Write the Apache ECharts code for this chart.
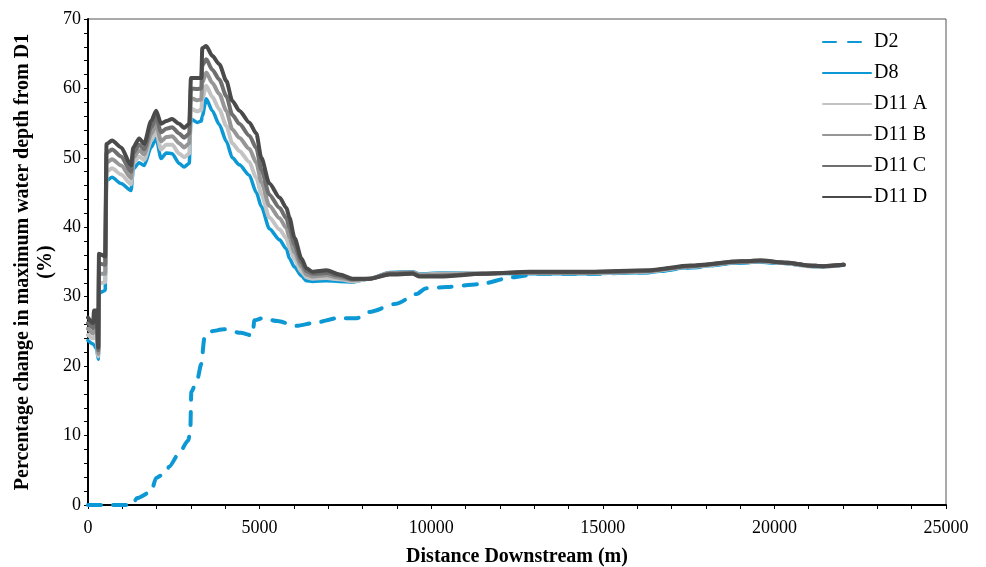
<!DOCTYPE html>
<html>
<head>
<meta charset="utf-8">
<script src="https://cdn.jsdelivr.net/npm/echarts@6/dist/echarts.min.js"></script>
<style>
  html, body { margin: 0; padding: 0; background: #fff; }
  #chart { width: 986px; height: 567px; }
</style>
</head>
<body>
<div id="chart"></div>
<script>
// distance downstream (m) shared by D8 and D11 runs
const dist = [0, 150, 175, 250, 300, 320, 500, 540, 700, 965, 1255, 1320, 1490, 1635, 1840, 1985,
  2130, 2280, 2450, 2660, 2800, 2950, 3000, 3180, 3300, 3330, 3445, 3620, 3825, 4030, 4205, 4410,
  4700, 4905, 5050, 5285, 5580, 5780, 5870, 6015, 6220, 6365, 6540, 6950, 7330, 7710, 8205, 8790,
  9460, 9665, 10250, 11505, 12880, 14630, 16295, 17550, 19010, 19590, 20380, 20965, 21430, 22020];

const d8 = [23.7, 23.2, 23.0, 22.5, 21.0, 30.5, 30.9, 46.7, 47.2, 46.3, 45.3, 48.4, 49.3, 48.9, 51.5, 52.8,
  49.9, 50.7, 50.6, 49.2, 48.7, 49.2, 55.6, 55.1, 55.3, 56.0, 58.5, 56.8, 54.8, 52.4, 50.0, 49.0,
  47.5, 45.0, 43.0, 39.8, 38.2, 36.9, 35.5, 34.3, 33.0, 32.3, 32.2, 32.3, 32.2, 32.1, 32.6, 33.5,
  33.6, 33.3, 33.4, 33.4, 33.3, 33.3, 33.5, 34.2, 34.9, 35.0, 34.8, 34.4, 34.3, 34.6];

const d11a = [24.5, 24.0, 24.2, 23.9, 21.4, 31.9, 32.1, 48.0, 48.5, 47.6, 46.2, 49.2, 50.2, 49.7, 52.5, 53.8,
  51.2, 51.9, 51.9, 50.6, 50.1, 50.6, 57.1, 56.7, 56.9, 58.5, 60.4, 58.8, 57.0, 54.6, 52.1, 51.0,
  49.4, 47.1, 44.8, 41.4, 39.7, 38.4, 37.0, 35.4, 33.6, 32.8, 32.6, 32.7, 32.5, 32.2, 32.6, 33.4,
  33.5, 33.2, 33.3, 33.4, 33.4, 33.4, 33.6, 34.3, 35.0, 35.1, 34.8, 34.4, 34.3, 34.6];

const d11b = [25.4, 24.7, 25.5, 25.2, 21.8, 33.3, 33.3, 49.3, 49.8, 48.9, 47.1, 50.0, 51.1, 50.5, 53.4, 54.8,
  52.4, 53.0, 53.1, 52.1, 51.5, 52.1, 58.6, 58.3, 58.4, 60.8, 62.3, 60.8, 59.2, 56.8, 54.1, 52.9,
  51.3, 49.3, 46.5, 43.1, 41.3, 39.9, 38.5, 36.4, 34.3, 33.2, 32.9, 33.1, 32.7, 32.4, 32.6, 33.4,
  33.5, 33.1, 33.2, 33.3, 33.5, 33.5, 33.7, 34.4, 35.0, 35.1, 34.9, 34.5, 34.4, 34.6];

const d11c = [26.2, 25.5, 26.7, 26.6, 22.3, 34.8, 34.6, 50.7, 51.2, 50.2, 48.0, 50.7, 51.9, 51.2, 54.4, 55.8,
  53.7, 54.2, 54.4, 53.5, 52.9, 53.5, 60.0, 59.9, 60.0, 63.3, 64.2, 62.7, 61.3, 58.9, 56.2, 54.9,
  53.2, 51.4, 48.3, 44.7, 42.8, 41.3, 39.9, 37.5, 34.9, 33.7, 33.3, 33.4, 33.0, 32.5, 32.6, 33.3,
  33.4, 33.0, 33.0, 33.3, 33.5, 33.5, 33.7, 34.4, 35.1, 35.2, 34.9, 34.5, 34.4, 34.6];

const d11d = [27.0, 26.2, 28.0, 28.0, 22.7, 36.2, 35.8, 52.0, 52.5, 51.5, 48.9, 51.5, 52.8, 52.0, 55.3, 56.8,
  54.9, 55.3, 55.6, 54.9, 54.3, 54.9, 61.5, 61.5, 61.5, 65.8, 66.1, 64.7, 63.5, 61.1, 58.2, 56.8,
  55.1, 53.5, 50.0, 46.3, 44.3, 42.8, 41.4, 38.5, 35.5, 34.1, 33.6, 33.8, 33.2, 32.6, 32.6, 33.2,
  33.3, 32.9, 32.9, 33.3, 33.6, 33.6, 33.8, 34.5, 35.1, 35.2, 34.9, 34.5, 34.4, 34.6];

// D2 has its own distances
const distD2 = [0, 1290, 1430, 1840, 1985, 2280, 2360, 2660, 2920, 2980, 3010, 3180, 3300, 3390, 3560,
  3970, 4440, 4790, 4850, 5080, 5520, 6070, 6660, 7240, 7830, 8200, 8990, 9580, 9840, 10440, 11390,
  12380, 13100, 14630, 16295, 17550, 19010, 19590, 20380, 20965, 21430, 22020];
const d2 = [0, 0, 1.0, 1.9, 3.9, 4.7, 5.5, 7.5, 9.3, 10.5, 16.3, 18.0, 20.3, 24.0, 25.0,
  25.3, 24.8, 24.4, 26.6, 26.9, 26.5, 25.8, 26.3, 26.9, 26.9, 27.8, 29.0, 30.4, 31.2, 31.4, 31.8,
  32.8, 33.3, 33.3, 33.5, 34.2, 34.9, 35.0, 34.8, 34.4, 34.3, 34.6];

const serif = "Liberation Serif";

function pairs(xs, ys) {
  return xs.map((x, i) => [x, ys[i]]);
}

function lineSeries(name, xs, ys, color, width, dashed) {
  return {
    name: name,
    type: "line",
    data: pairs(xs, ys),
    symbol: "none",
    smooth: 0.25,
    smoothMonotone: "x",
    lineStyle: {
      color: color,
      width: width,
      type: dashed ? [13, 12] : "solid",
      cap: "round",
      join: "round",
    },
    itemStyle: { color: color },
  };
}

let myChart = echarts.init(document.getElementById("chart"));
myChart.setOption({
  animation: false,
  grid: {
    left: 88,
    right: 40,
    top: 19,
    bottom: 62,
    outerBoundsMode: "none",
    show: true,
    borderColor: "#555",
    borderWidth: 1,
  },
  legend: {
    orient: "vertical",
    left: 817,
    top: 27,
    itemWidth: 48,
    itemHeight: 14,
    itemGap: 11,
    // hide the little circle, keep the line
    itemStyle: { opacity: 0 },
    textStyle: { fontFamily: serif, fontSize: 20, lineHeight: 20, color: "#000", padding: [0, 0, 0, -2] },
    data: ["D2", "D8", "D11 A", "D11 B", "D11 C", "D11 D"],
  },
  xAxis: {
    type: "value",
    min: 0,
    max: 25000,
    interval: 5000,
    name: "Distance Downstream (m)",
    nameLocation: "middle",
    nameGap: 42,
    nameTextStyle: { fontFamily: serif, fontSize: 20, fontWeight: "bold", color: "#000" },
    axisLine: { lineStyle: { color: "#000", width: 2 } },
    axisTick: { show: true, length: 4, lineStyle: { color: "#000" } },
    minorTick: { show: true, splitNumber: 5, length: 4, lineStyle: { color: "#000" } },
    axisLabel: {
      fontFamily: serif,
      fontSize: 18,
      color: "#000",
      margin: 14,
      formatter: (v) => String(v),
    },
    splitLine: { show: false },
  },
  yAxis: {
    type: "value",
    min: 0,
    max: 70,
    interval: 10,
    name: "Percentage change in maximum water depth from D1\n(%)",
    nameLocation: "middle",
    nameGap: 31,
    nameMoveOverlap: false,
    nameTextStyle: { fontFamily: serif, fontSize: 20, fontWeight: "bold", color: "#000", lineHeight: 23 },
    axisLine: { show: true, lineStyle: { color: "#000", width: 2 } },
    axisTick: { show: true, length: 4, lineStyle: { color: "#000" } },
    minorTick: { show: true, splitNumber: 5, length: 4, lineStyle: { color: "#000" } },
    axisLabel: { fontFamily: serif, fontSize: 18, color: "#000", margin: 7 },
    splitLine: { show: false },
  },
  series: [
    lineSeries("D2", distD2, d2, "#0b98d4", 4, true),
    lineSeries("D8", dist, d8, "#0b98d4", 3.5, false),
    lineSeries("D11 A", dist, d11a, "#c3c3c3", 4, false),
    lineSeries("D11 B", dist, d11b, "#969696", 4, false),
    lineSeries("D11 C", dist, d11c, "#6f6f6f", 4, false),
    lineSeries("D11 D", dist, d11d, "#4a4a4a", 4, false),
  ],
});
</script>
</body>
</html>
